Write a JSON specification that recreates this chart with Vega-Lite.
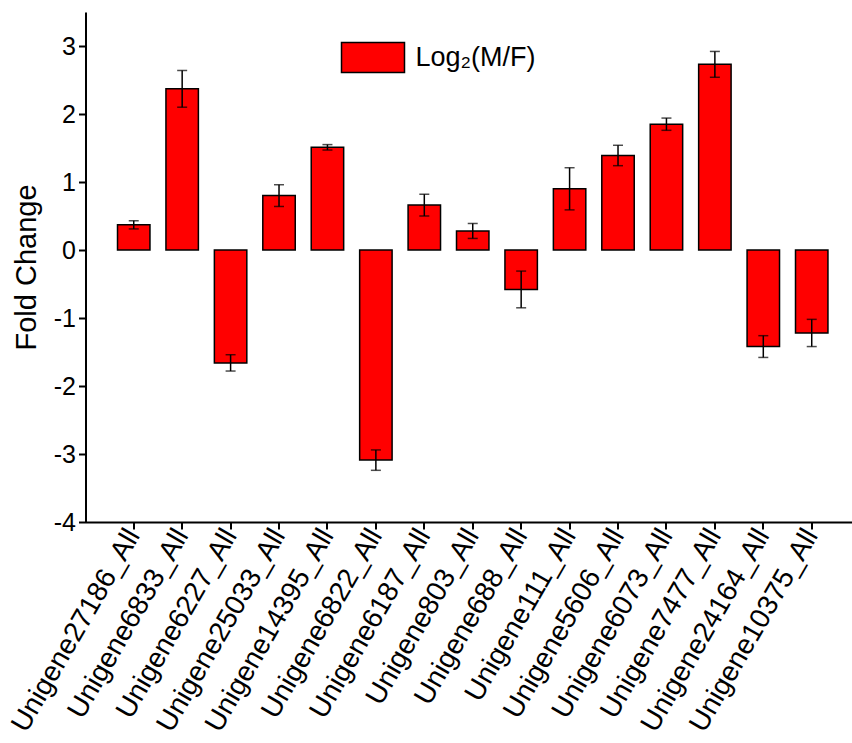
{
  "$schema": "https://vega.github.io/schema/vega-lite/v6.json",
  "width": 767,
  "height": 510,
  "autosize": {"type": "none"},
  "padding": {"left": 85.5, "top": 12, "right": 0, "bottom": 221},
  "background": "white",
  "config": {
    "font": "Liberation Sans",
    "view": {"stroke": null},
    "axis": {"domainColor": "black", "tickColor": "black", "labelColor": "black", "titleColor": "black", "domainWidth": 2, "tickWidth": 2, "grid": false}
  },
  "data": {
    "values": [
      {"gene": "Unigene27186_All", "value": 0.37, "err": 0.06},
      {"gene": "Unigene6833_All", "value": 2.37, "err": 0.27},
      {"gene": "Unigene6227_All", "value": -1.66, "err": 0.12},
      {"gene": "Unigene25033_All", "value": 0.80, "err": 0.16},
      {"gene": "Unigene14395_All", "value": 1.51, "err": 0.04},
      {"gene": "Unigene6822_All", "value": -3.09, "err": 0.15},
      {"gene": "Unigene6187_All", "value": 0.66, "err": 0.16},
      {"gene": "Unigene803_All", "value": 0.28, "err": 0.11},
      {"gene": "Unigene688_All", "value": -0.58, "err": 0.27},
      {"gene": "Unigene111_All", "value": 0.90, "err": 0.31},
      {"gene": "Unigene5606_All", "value": 1.39, "err": 0.15},
      {"gene": "Unigene6073_All", "value": 1.85, "err": 0.09},
      {"gene": "Unigene7477_All", "value": 2.73, "err": 0.19},
      {"gene": "Unigene24164_All", "value": -1.42, "err": 0.16},
      {"gene": "Unigene10375_All", "value": -1.22, "err": 0.20}
    ]
  },
  "encoding": {
    "x": {
      "field": "gene", "type": "nominal", "sort": null,
      "scale": {"paddingInner": 0.33, "paddingOuter": 0.584, "align": 0.566},
      "axis": {"title": null, "labelAngle": -60, "labelAlign": "right", "labelBaseline": "middle", "labelFontSize": 28, "labelPadding": 2, "tickSize": 7, "labelLimit": 0, "labelOverlap": false}
    }
  },
  "layer": [
    {
      "mark": {"type": "bar", "stroke": "black", "strokeWidth": 1.5},
      "encoding": {
        "y": {
          "field": "value", "type": "quantitative", "title": "Fold Change",
          "scale": {"domain": [-4, 3.5], "nice": false, "zero": false},
          "axis": {
            "title": "Fold Change", "titleFontSize": 29, "titleFontWeight": "normal", "titlePadding": 12,
            "values": [-4, -3.5, -3, -2.5, -2, -1.5, -1, -0.5, 0, 0.5, 1, 1.5, 2, 2.5, 3],
            "labelExpr": "datum.value % 1 === 0 ? '' + datum.value : ''",
            "labelFontSize": 25, "labelPadding": 3, "labelOverlap": false,
            "tickSize": {"condition": {"test": "datum.value % 1 === 0", "value": 7}, "value": 4}
          }
        },
        "color": {
          "datum": "Log₂(M/F)",
          "scale": {"range": ["#ff0000"]},
          "legend": {
            "title": null, "orient": "none", "legendX": 255, "legendY": 13,
            "symbolType": "M-1,-0.476L1,-0.476L1,0.476L-1,0.476Z",
            "symbolSize": 3969, "symbolStrokeColor": "black", "symbolStrokeWidth": 1.5,
            "labelFontSize": 27, "labelColor": "black", "labelOffset": 10, "padding": 0
          }
        }
      }
    },
    {
      "mark": {"type": "errorbar", "ticks": {"size": 10, "thickness": 1.5, "color": "black"}, "rule": {"strokeWidth": 1.5, "color": "black"}, "color": "black"},
      "encoding": {
        "y": {"field": "value", "type": "quantitative", "title": "Fold Change"},
        "yError": {"field": "err"}
      }
    },
    {
      "mark": {"type": "rule", "color": "black", "strokeWidth": 1.5},
      "encoding": {"y": {"datum": 0}}
    }
  ]
}
